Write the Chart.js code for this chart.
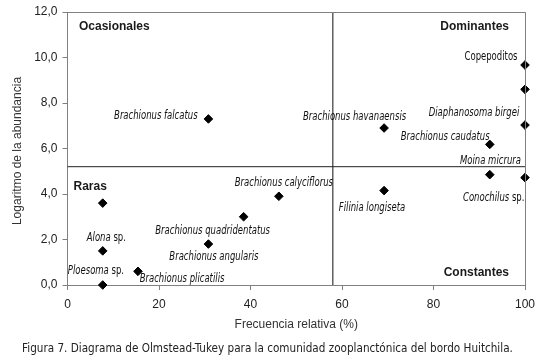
<!DOCTYPE html>
<html>
<head>
<meta charset="utf-8">
<script src="https://cdn.jsdelivr.net/npm/chart.js@4.4.1/dist/chart.umd.min.js"></script>
<style>
  html, body { margin: 0; padding: 0; background: #ffffff; }
  #c { display: block; }
</style>
</head>
<body>
<canvas id="c" width="537" height="362"></canvas>
<script>
// ---- data ----
const freqValues = [7.7, 7.7, 7.7, 15.4, 30.8, 30.8, 38.5, 46.2, 69.2, 69.2, 92.3, 92.3, 100, 100, 100, 100];
const abundValues = [0.0, 3.6, 1.5, 0.6, 7.3, 1.8, 3.0, 3.9, 6.9, 4.15, 6.18, 4.85, 9.67, 8.6, 7.03, 4.72];
// [italic part, upright part]
const speciesNames = [
  ["Ploesoma", " sp."], ["", ""], ["Alona", " sp."], ["Brachionus plicatilis", ""],
  ["Brachionus falcatus", ""], ["Brachionus angularis", ""], ["Brachionus quadridentatus", ""],
  ["Brachionus calyciflorus", ""], ["Brachionus havanaensis", ""], ["Filinia longiseta", ""],
  ["Brachionus caudatus", ""], ["Moina micrura", ""], ["", "Copepoditos"], ["", ""],
  ["Diaphanosoma birgei", ""], ["Conochilus", " sp."]
];
const xTickValues = [0, 20, 40, 60, 80, 100];
const yTickValues = [0, 2, 4, 6, 8, 10, 12];
const meanFreq = 58;      // vertical divider
const meanAbund = 5.2;    // horizontal divider
const quadrantNames = ["Ocasionales", "Dominantes", "Raras", "Constantes"];
const xTitle = "Frecuencia relativa (%)";
const yTitle = "Logaritmo de la abundancia";
const caption = "Figura 7. Diagrama de Olmstead-Tukey para la comunidad zooplanctónica del bordo Huitchila.";

// ---- label placement (pixel offsets of label centre from its point) ----
const labelOffsets = [
  [-6.8, -14.3], [0, 0], [3.6, -13.3], [44.1, 7.3],
  [-52.6, -3.4], [5.5, 13.3], [-31, 14.7],
  [5, -13.4], [-29.5, -11], [-12.1, 17.6],
  [-44.6, -7.6], [0.7, -13.3], [-34, -7.7], [0, 0],
  [-51, -12.3], [-31.3, 20]
];

const points = freqValues.map((x, i) => ({ x: x, y: abundValues[i] }));
const NARROW = '"Liberation Sans Narrow", "Arial Narrow", "DejaVu Sans Condensed", sans-serif';
const SANS = '"Liberation Sans", Arial, sans-serif';
const LABEL_SQUEEZE = 0.82;
const CAPTION_SQUEEZE = 0.968;

const decor = {
  id: 'decor',
  beforeDraw(chart) {
    const ctx = chart.ctx;
    ctx.save();
    ctx.fillStyle = '#ffffff';
    ctx.fillRect(0, 0, chart.width, chart.height);
    ctx.restore();
  },
  afterDatasetsDraw(chart) {
    const ctx = chart.ctx;
    const a = chart.chartArea;
    ctx.save();
    // frame (top & right)
    ctx.strokeStyle = '#808080';
    ctx.lineWidth = 1;
    ctx.beginPath();
    ctx.moveTo(a.left, a.top + 0.5);
    ctx.lineTo(a.right + 0.5, a.top + 0.5);
    ctx.lineTo(a.right + 0.5, a.bottom);
    ctx.stroke();

    // species labels
    const meta = chart.getDatasetMeta(2);
    ctx.fillStyle = '#111';
    ctx.textBaseline = 'middle';
    ctx.textAlign = 'left';
    meta.data.forEach((el, i) => {
      const [it, up] = speciesNames[i];
      if (!it && !up) return;
      const fi = 'italic 11.5px ' + NARROW;
      const fu = '11.5px ' + NARROW;
      ctx.font = fi; const wi = it ? ctx.measureText(it).width : 0;
      ctx.font = fu; const wu = up ? ctx.measureText(up).width : 0;
      const cx = el.x + labelOffsets[i][0];
      const cy = el.y + labelOffsets[i][1];
      const x0 = cx - (wi + wu) * LABEL_SQUEEZE / 2;
      ctx.save();
      ctx.translate(x0, cy);
      ctx.scale(LABEL_SQUEEZE, 1);
      if (it) { ctx.font = fi; ctx.fillText(it, 0, 0); }
      if (up) { ctx.font = fu; ctx.fillText(up, wi, 0); }
      ctx.restore();
    });

    // quadrant labels
    ctx.font = 'bold 12px ' + SANS;
    ctx.fillStyle = '#1a1a1a';
    ctx.textAlign = 'left';
    ctx.fillText(quadrantNames[0], a.left + 11.5, a.top + 15);
    ctx.textAlign = 'right';
    ctx.fillText(quadrantNames[1], a.right - 16, a.top + 14.5);
    ctx.textAlign = 'left';
    ctx.fillText(quadrantNames[2], a.left + 6, chart.scales.y.getPixelForValue(4.3));
    ctx.textAlign = 'right';
    ctx.fillText(quadrantNames[3], a.right - 16, a.bottom - 12);

    // axis titles
    ctx.font = '12px ' + SANS;
    ctx.fillStyle = '#333';
    ctx.textAlign = 'center';
    ctx.fillText(xTitle, (a.left + a.right) / 2, 325);
    ctx.save();
    ctx.translate(18, 151);
    ctx.rotate(-Math.PI / 2);
    ctx.fillText(yTitle, 0, 0);
    ctx.restore();

    // caption
    ctx.font = '12px ' + NARROW;
    ctx.fillStyle = '#222';
    ctx.save();
    ctx.translate(267.5, 349);
    ctx.scale(CAPTION_SQUEEZE, 1);
    ctx.fillText(caption, 0, 0);
    ctx.restore();
    ctx.restore();
  }
};

new Chart(document.getElementById('c'), {
  type: 'scatter',
  data: {
    datasets: [
      {
        label: 'v',
        data: [{ x: meanFreq, y: 0 }, { x: meanFreq, y: 12 }],
        showLine: true, borderColor: '#111', borderWidth: 1, pointRadius: 0, clip: false
      },
      {
        label: 'h',
        data: [{ x: 0, y: meanAbund }, { x: 100, y: meanAbund }],
        showLine: true, borderColor: '#222', borderWidth: 1, pointRadius: 0, clip: false
      },
      {
        label: 'especies',
        data: points,
        pointStyle: 'rectRot',
        pointRadius: 4.3,
        pointBackgroundColor: '#000',
        pointBorderColor: '#000',
        pointBorderWidth: 1,
        clip: false
      }
    ]
  },
  options: {
    responsive: false,
    animation: false,
    devicePixelRatio: 1,
    layout: { padding: { top: 12, right: 12, left: 0, bottom: 0 } },
    plugins: { legend: { display: false }, tooltip: { enabled: false }, title: { display: false } },
    scales: {
      x: {
        type: 'linear', min: 0, max: 100,
        afterFit: s => { s.height = 77; s.paddingLeft = 0; s.paddingRight = 0; },
        afterBuildTicks: s => { s.ticks = xTickValues.map(v => ({ value: v })); },
        grid: { drawOnChartArea: false, drawTicks: true, tickLength: 5, color: '#808080' },
        border: { color: '#808080', width: 1 },
        ticks: { color: '#222', font: { family: SANS, size: 12 }, padding: 7, maxRotation: 0 }
      },
      y: {
        type: 'linear', min: 0, max: 12,
        afterFit: s => { s.width = 67.5; s.paddingTop = 0; s.paddingBottom = 0; },
        afterBuildTicks: s => { s.ticks = yTickValues.map(v => ({ value: v })); },
        grid: { drawOnChartArea: false, drawTicks: true, tickLength: 5, color: '#808080' },
        border: { color: '#808080', width: 1 },
        ticks: {
          color: '#222', font: { family: SANS, size: 12 }, padding: 5,
          callback: v => v.toFixed(1).replace('.', ',')
        }
      }
    }
  },
  plugins: [decor]
});
</script>
</body>
</html>
